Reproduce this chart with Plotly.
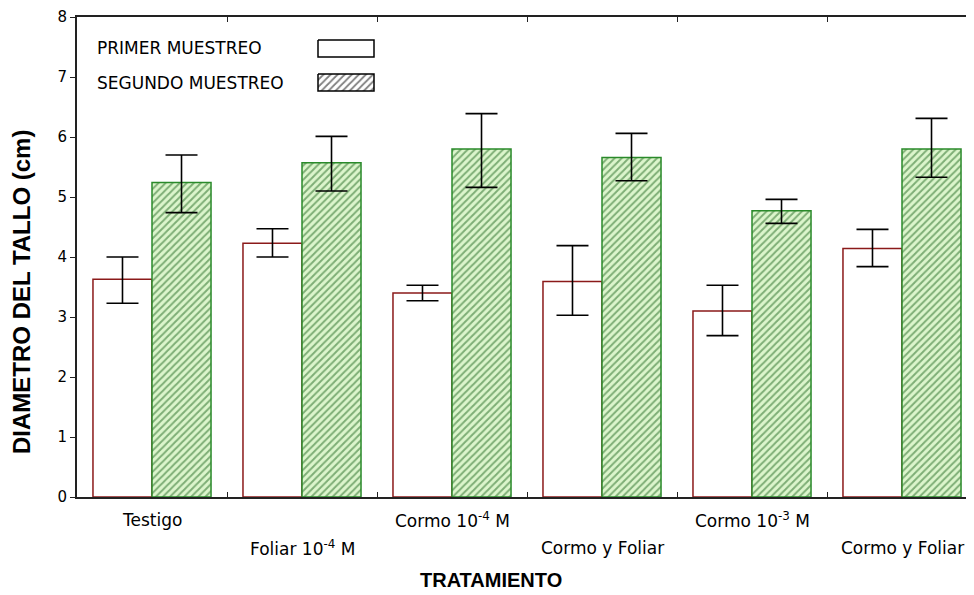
import plotly.graph_objects as go

categories = ["Testigo", "Foliar 10<sup>-4</sup> M", "Cormo 10<sup>-4</sup> M",
              "Cormo y Foliar", "Cormo 10<sup>-3</sup> M", "Cormo y Foliar"]
primer = [3.63, 4.23, 3.40, 3.59, 3.10, 4.14]
primer_hi = [4.00, 4.47, 3.53, 4.19, 3.53, 4.46]
primer_lo = [3.23, 4.00, 3.27, 3.03, 2.69, 3.84]
segundo = [5.24, 5.57, 5.80, 5.66, 4.77, 5.80]
segundo_hi = [5.70, 6.01, 6.39, 6.06, 4.96, 6.31]
segundo_lo = [4.74, 5.10, 5.16, 5.27, 4.56, 5.33]
series_names = ["PRIMER MUESTREO", "SEGUNDO MUESTREO"]
y_ticks = [0, 1, 2, 3, 4, 5, 6, 7, 8]

# page has an 8px body offset
OFF = 8
W, H = 974 - OFF, 595 - OFF
L, R, T, B = 77 - OFF, 0, 17 - OFF, 98

pos = list(range(len(categories)))
TICKFONT = dict(family="DejaVu Sans", size=17, color="black")

fig = go.Figure()
fig.add_bar(
    x=pos, y=primer, name=series_names[0], showlegend=False,
    marker=dict(color="white", line=dict(color="#8b1a1a", width=1.5)),
    error_y=dict(type="data", symmetric=False,
                 array=[h - v for h, v in zip(primer_hi, primer)],
                 arrayminus=[v - l for v, l in zip(primer, primer_lo)],
                 color="black", thickness=1.6, width=16),
)
fig.add_bar(
    x=pos, y=segundo, name=series_names[1], showlegend=False,
    marker=dict(color="#dcf5cc", line=dict(color="#2a8a2a", width=1.5),
                pattern=dict(shape="/", fgcolor="#1f661f", bgcolor="#dcf5cc",
                             size=5, solidity=0.4)),
    error_y=dict(type="data", symmetric=False,
                 array=[h - v for h, v in zip(segundo_hi, segundo)],
                 arrayminus=[v - l for v, l in zip(segundo, segundo_lo)],
                 color="black", thickness=1.6, width=16),
)

# legend swatches on a pixel-space overlay axis (screen coordinates)
px_x = [318, 374, 374, 318, 318]
fig.add_scatter(x=px_x, y=[40, 40, 57, 57, 40], xaxis="x3", yaxis="y3",
                mode="lines", fill="toself", fillcolor="white",
                line=dict(color="black", width=1.5), showlegend=False, hoverinfo="skip")
fig.add_scatter(x=px_x, y=[74, 74, 91, 91, 74], xaxis="x3", yaxis="y3",
                mode="lines", fill="toself",
                fillpattern=dict(shape="/", fgcolor="black", bgcolor="white", size=5, solidity=0.35),
                line=dict(color="black", width=1.5), showlegend=False, hoverinfo="skip")

annotations = []
for name, yy in zip(series_names, [48, 83]):
    annotations.append(dict(x=95, y=yy, xref="x3", yref="y3", text=name, showarrow=False,
                            xanchor="left", yanchor="middle",
                            font=dict(family="DejaVu Sans", size=17, color="black")))
for i, c in enumerate(categories):
    annotations.append(dict(x=i, y=0, xref="x", yref="y", text=c, showarrow=False,
                            xanchor="center", yanchor="middle",
                            yshift=-23 if i % 2 == 0 else -51, font=TICKFONT))
pw, ph = W - L - R, H - T - B
annotations.append(dict(x=(491 - OFF - L) / pw, y=(H - B - (580 - OFF)) / ph,
                        xref="paper", yref="paper", text="<b>TRATAMIENTO</b>",
                        showarrow=False, xanchor="center", yanchor="middle",
                        font=dict(family="Liberation Sans", size=20, color="black")))
annotations.append(dict(x=(21 - OFF - L) / pw, y=(H - B - (292 - OFF)) / ph,
                        xref="paper", yref="paper", text="<b>DIAMETRO DEL TALLO (cm)</b>",
                        showarrow=False, textangle=-90, xanchor="center", yanchor="middle",
                        font=dict(family="Liberation Sans", size=24, color="black")))

xr = [-0.5, -0.5 + pw / 150.0]
fig.update_layout(
    width=W, height=H, margin=dict(l=L, r=R, t=T, b=B),
    paper_bgcolor="white", plot_bgcolor="white",
    barmode="group", bargap=0.213, bargroupgap=0,
    font=TICKFONT,
    xaxis=dict(range=xr, showticklabels=False, ticks="", showgrid=False, zeroline=False,
               showline=True, linecolor="#222", linewidth=2, mirror=True),
    xaxis2=dict(range=xr, overlaying="x", tickvals=[i + 0.5 for i in pos[:-1]],
                ticks="inside", ticklen=5, tickcolor="#222", showticklabels=False,
                showgrid=False, zeroline=False, showline=False, mirror="ticks"),
    yaxis=dict(range=[0, 8], tickvals=y_ticks, ticks="outside", ticklen=5, tickcolor="#222",
               showgrid=False, zeroline=False, showline=True, linecolor="#222", linewidth=2,
               tickfont=dict(family="DejaVu Sans", size=15, color="black")),
    xaxis3=dict(range=[77, 974], visible=False, overlaying="x", fixedrange=True),
    yaxis3=dict(range=[497, 17], visible=False, overlaying="y", fixedrange=True),
    annotations=annotations,
)
fig.add_scatter(x=[0], y=[0], xaxis="x2", mode="markers", marker=dict(opacity=0),
                showlegend=False, hoverinfo="skip")
fig.write_html("out.html")
